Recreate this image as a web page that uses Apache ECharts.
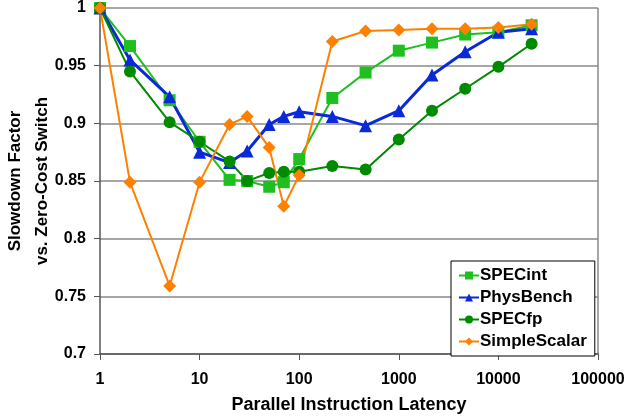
<!DOCTYPE html>
<html>
<head>
<meta charset="utf-8">
<script src="https://cdn.jsdelivr.net/npm/echarts@6/dist/echarts.min.js"></script>
<style>
  html, body { margin: 0; padding: 0; background: #fff; }
  #main { width: 626px; height: 419px; }
</style>
</head>
<body>
<div id="main"></div>
<script>
// parallel instruction latency (x, log scale)
const latency = [1, 2, 5, 10, 20, 30, 50, 70, 100, 215, 464, 1000, 2154, 4642, 10000, 21544];

const specInt = [1.0, 0.967, 0.920, 0.884, 0.851, 0.850, 0.845, 0.849, 0.869, 0.922, 0.944, 0.963, 0.970, 0.977, 0.979, 0.985];
const physBench = [1.0, 0.955, 0.923, 0.875, 0.866, 0.876, 0.899, 0.906, 0.910, 0.906, 0.898, 0.911, 0.942, 0.962, 0.979, 0.982];
const specFp = [1.0, 0.945, 0.901, 0.884, 0.867, 0.850, 0.857, 0.858, 0.858, 0.863, 0.860, 0.886, 0.911, 0.930, 0.949, 0.969];
const simpleScalar = [1.0, 0.849, 0.759, 0.849, 0.899, 0.906, 0.879, 0.828, 0.855, 0.971, 0.980, 0.981, 0.982, 0.982, 0.983, 0.986];

const FONT = "'Liberation Sans', Arial, sans-serif";

function pairs(values) {
  return latency.map((x, i) => [x, values[i]]);
}

function makeSeries(name, values, color, symbol, size, width) {
  return {
    name: name,
    type: "line",
    data: pairs(values),
    symbol: symbol,
    symbolSize: size,
    showSymbol: true,
    lineStyle: { color: color, width: width },
    itemStyle: { color: color },
    emphasis: { disabled: true },
  };
}

const chart = echarts.init(document.getElementById("main"), null, { renderer: "canvas" });

const option = {
  animation: false,
  textStyle: { fontFamily: FONT },
  grid: { left: 100, right: 28, top: 8, bottom: 65, outerBoundsMode: "none", containLabel: false },
  legend: {
    orient: "vertical",
    left: 451,
    top: 261,
    width: 146,
    padding: [6, 8, 6, 7],
    itemGap: 5,
    itemWidth: 20,
    itemHeight: 10,
    backgroundColor: "#fff",
    borderColor: "#000",
    borderWidth: 1,
    textStyle: { fontFamily: FONT, fontWeight: "bold", fontSize: 17, color: "#000", padding: [0, 0, 0, -4] },
    data: ["SPECint", "PhysBench", "SPECfp", "SimpleScalar"],
  },
  xAxis: {
    type: "log",
    logBase: 10,
    min: 1,
    max: 100000,
    name: "Parallel Instruction Latency",
    nameLocation: "middle",
    nameGap: 42,
    nameMoveOverlap: false,
    nameTextStyle: { fontFamily: FONT, fontWeight: "bold", fontSize: 18, color: "#000" },
    axisLine: { lineStyle: { color: "#555", width: 1.5 } },
    axisTick: { show: true, length: 6, lineStyle: { color: "#555" } },
    minorTick: { show: false },
    splitLine: { show: false },
    axisLabel: {
      margin: 18,
      fontFamily: FONT,
      fontWeight: "bold",
      fontSize: 16,
      color: "#000",
      formatter: (v) => String(Math.round(v)),
    },
  },
  yAxis: {
    type: "value",
    min: 0.7,
    max: 1,
    interval: 0.05,
    name: "Slowdown Factor\nvs. Zero-Cost Switch",
    nameLocation: "middle",
    nameGap: 44,
    nameMoveOverlap: false,
    nameRotate: 90,
    nameTextStyle: { fontFamily: FONT, fontWeight: "bold", fontSize: 17, color: "#000", lineHeight: 27 },
    axisLine: { show: true, lineStyle: { color: "#555", width: 1.5 } },
    axisTick: { show: true, length: 6, lineStyle: { color: "#555" } },
    splitLine: { show: true, lineStyle: { color: "#8a8a8a", width: 1.5 } },
    axisLabel: {
      margin: 14,
      fontFamily: FONT,
      fontWeight: "bold",
      fontSize: 16,
      color: "#000",
      formatter: (v) => String(Math.round(v * 100) / 100),
    },
  },
  graphic: [
    {
      // right border of the plot area
      type: "line",
      shape: { x1: 598, y1: 8, x2: 598, y2: 354 },
      style: { stroke: "#8a8a8a", lineWidth: 1.5 },
      z: 0,
    },
  ],
  series: [
    makeSeries("SPECint", specInt, "#1fbf1f", "rect", 12, 2),
    makeSeries("PhysBench", physBench, "#0a2ad8", "triangle", 13, 3),
    makeSeries("SPECfp", specFp, "#008a00", "circle", 12, 2),
    makeSeries("SimpleScalar", simpleScalar, "#ff8000", "diamond", 13, 2),
  ],
};

chart.setOption(option, true);
</script>
</body>
</html>
